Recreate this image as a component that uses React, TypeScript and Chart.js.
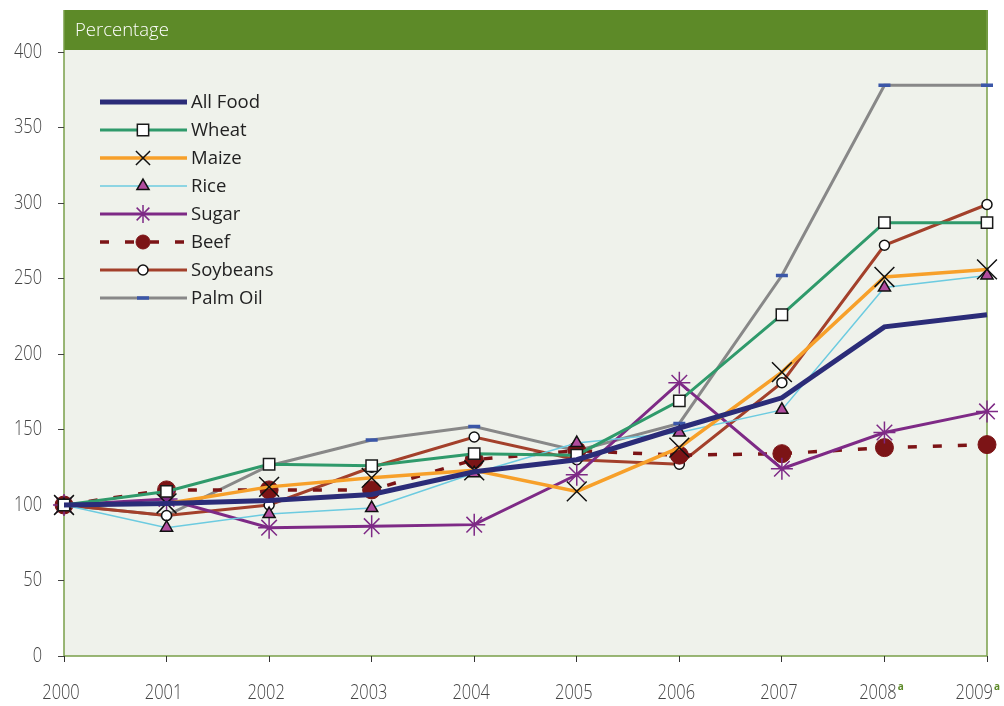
import React, { useEffect, useRef } from "react";
import { Chart, registerables } from "chart.js";
import { drawPoint } from "chart.js/helpers";

Chart.register(...registerables);

const years = ["2000", "2001", "2002", "2003", "2004", "2005", "2006", "2007", "2008", "2009"];
const yearNotes = ["", "", "", "", "", "", "", "", "a", "a"];
const yTicks = [0, 50, 100, 150, 200, 250, 300, 350, 400];

const allFood = [100, 101, 103, 107, 122, 130, 151, 171, 218, 226];
const wheat = [100, 109, 127, 126, 134, 133, 169, 226, 287, 287];
const maize = [100, 101, 112, 118, 123, 109, 138, 188, 251, 256];
const rice = [100, 85, 94, 98, 121, 141, 148, 163, 244, 252];
const sugar = [100, 104, 85, 86, 87, 120, 181, 124, 148, 162];
const beef = [100, 110, 110, 110, 130, 136, 133, 134, 138, 140];
const soybeans = [100, 93, 100, 125, 145, 130, 127, 181, 272, 299];
const palmOil = [100, 93, 126, 143, 152, 136, 154, 252, 378, 378];

const seriesNames = ["All Food", "Wheat", "Maize", "Rice", "Sugar", "Beef", "Soybeans", "Palm Oil"];

const FONT_TEXT = "'Open Sans', 'DejaVu Sans', sans-serif";
const TICK_FONT = `300 20px 'Open Sans', 'DejaVu Sans', sans-serif`;
const NOTE_FONT = `bold 10px 'Open Sans', 'DejaVu Sans', sans-serif`;
const SQUEEZE = 0.82;

function narrowWidth(ctx: any, text: string) {
  ctx.save();
  ctx.font = TICK_FONT;
  const w = ctx.measureText(text).width * SQUEEZE;
  ctx.restore();
  return w;
}

function drawNarrow(ctx: any, text: string, x0: number, y: number) {
  ctx.save();
  ctx.font = TICK_FONT;
  ctx.textBaseline = "middle";
  ctx.textAlign = "left";
  ctx.translate(x0, y);
  ctx.scale(SQUEEZE, 1);
  ctx.fillText(text, 0, 0);
  ctx.restore();
}

const boxPlugin = {
  id: "boxPlugin",
  beforeDraw(chart: any) {
    const { ctx, chartArea } = chart;
    const { left, right, top, bottom } = chartArea;
    const boxTop = top - 42;
    ctx.save();
    ctx.fillStyle = "#eff2eb";
    ctx.fillRect(left, boxTop, right - left, bottom - boxTop);
    ctx.fillStyle = "#5d8a28";
    ctx.fillRect(left, boxTop, right - left + 1, 40);
    ctx.strokeStyle = "#79a04a";
    ctx.lineWidth = 1.5;
    ctx.beginPath();
    ctx.moveTo(left, boxTop);
    ctx.lineTo(left, bottom);
    ctx.lineTo(right, bottom);
    ctx.lineTo(right, boxTop);
    ctx.stroke();
    ctx.fillStyle = "#ffffff";
    ctx.font = `300 18.5px ${FONT_TEXT}`;
    ctx.textBaseline = "middle";
    ctx.textAlign = "left";
    ctx.fillText("Percentage", left + 11, boxTop + 21);
    ctx.restore();
  },
  afterDraw(chart: any) {
    const { ctx } = chart;
    const xScale = chart.scales.x;
    const yScale = chart.scales.y;
    const canvasW = chart.width;
    ctx.save();
    ctx.fillStyle = "#444444";
    yTicks.forEach((v) => {
      const w = narrowWidth(ctx, String(v));
      drawNarrow(ctx, String(v), 42 - w, yScale.getPixelForValue(v));
    });
    years.forEach((yr, i) => {
      const x = xScale.getPixelForValue(i);
      const w = narrowWidth(ctx, yr);
      ctx.font = NOTE_FONT;
      const nw = yearNotes[i] ? ctx.measureText(yearNotes[i]).width + 1 : 0;
      let start = x - 3 - (w + nw) / 2;
      const maxEnd = canvasW - 3;
      if (start + w + nw + 1 > maxEnd) start = maxEnd - (w + nw + 1);
      ctx.fillStyle = "#444444";
      drawNarrow(ctx, yr, start, 693);
      if (yearNotes[i]) {
        ctx.fillStyle = "#5d8a28";
        ctx.font = NOTE_FONT;
        ctx.textBaseline = "middle";
        ctx.textAlign = "left";
        ctx.fillText(yearNotes[i], start + w + 1, 687);
      }
    });
    // legend
    const lx0 = 100;
    const lx1 = 187;
    const rowY0 = 102;
    const rowH = 28;
    chart.data.datasets.forEach((ds: any, i: number) => {
      const y = rowY0 + i * rowH;
      ctx.save();
      ctx.strokeStyle = ds.borderColor;
      ctx.lineWidth = ds.borderWidth;
      ctx.setLineDash(ds.borderDash || []);
      ctx.beginPath();
      ctx.moveTo(lx0, y);
      ctx.lineTo(lx1, y);
      ctx.stroke();
      ctx.setLineDash([]);
      if (ds.pointStyle && ds.pointRadius > 0) {
        ctx.fillStyle = ds.pointBackgroundColor;
        ctx.strokeStyle = ds.pointBorderColor;
        ctx.lineWidth = ds.pointBorderWidth;
        drawPoint(ctx, { pointStyle: ds.pointStyle, radius: ds.legendRadius ?? ds.pointRadius, borderWidth: ds.pointBorderWidth, rotation: 0 }, 143, y);
      }
      ctx.fillStyle = "#222222";
      ctx.font = `18.5px ${FONT_TEXT}`;
      ctx.textAlign = "left";
      ctx.textBaseline = "middle";
      ctx.fillText(ds.label, 191, y + 1);
      ctx.restore();
    });
    ctx.restore();
  },
};

export default function App() {
  const canvasRef = useRef<HTMLCanvasElement | null>(null);

  useEffect(() => {
    if (!canvasRef.current) return;
    const mk = (label: string, data: number[], color: string, width: number, extra: any) => ({
      label,
      data,
      borderColor: color,
      borderWidth: width,
      tension: 0,
      fill: false,
      ...extra,
    });
    const chart = new Chart(canvasRef.current, {
      type: "line",
      data: {
        labels: years,
        datasets: [
          mk(seriesNames[0], allFood, "#2b2c78", 5, { pointRadius: 0, pointStyle: false }),
          mk(seriesNames[1], wheat, "#2f9a6b", 3, {
            pointStyle: "rect", pointRadius: 8, legendRadius: 8,
            pointBackgroundColor: "#ffffff", pointBorderColor: "#1a1a1a", pointBorderWidth: 1.5,
          }),
          mk(seriesNames[2], maize, "#f7a02a", 3.5, {
            pointStyle: "crossRot", pointRadius: 14, legendRadius: 10,
            pointBackgroundColor: "#000000", pointBorderColor: "#111111", pointBorderWidth: 1.5,
          }),
          mk(seriesNames[3], rice, "#6ccbe0", 1.5, {
            pointStyle: "triangle", pointRadius: 7, legendRadius: 7,
            pointBackgroundColor: "#b04c9e", pointBorderColor: "#111111", pointBorderWidth: 1.5,
          }),
          mk(seriesNames[4], sugar, "#7e2a86", 3, {
            pointStyle: "star", pointRadius: 11, legendRadius: 9,
            pointBackgroundColor: "#7e2a86", pointBorderColor: "#7e2a86", pointBorderWidth: 1.5,
          }),
          mk(seriesNames[5], beef, "#7c1416", 3.5, {
            borderDash: [9, 16],
            pointStyle: "circle", pointRadius: 9, legendRadius: 7,
            pointBackgroundColor: "#7c1416", pointBorderColor: "#7c1416", pointBorderWidth: 1,
          }),
          mk(seriesNames[6], soybeans, "#a3402b", 3, {
            pointStyle: "circle", pointRadius: 5, legendRadius: 5,
            pointBackgroundColor: "#ffffff", pointBorderColor: "#111111", pointBorderWidth: 1.5,
          }),
          mk(seriesNames[7], palmOil, "#888888", 3, {
            pointStyle: "line", pointRadius: 6, legendRadius: 6,
            pointBackgroundColor: "#3b57a8", pointBorderColor: "#3b57a8", pointBorderWidth: 3.5,
          }),
        ],
      },
      options: {
        responsive: false,
        animation: false,
        devicePixelRatio: 1,
        layout: { padding: { top: 52, right: 17, left: 0, bottom: 0 } },
        plugins: { legend: { display: false }, tooltip: { enabled: false } },
        elements: { point: { hoverRadius: 0 } },
        scales: {
          x: {
            type: "category",
            offset: false,
            grid: { drawOnChartArea: false, drawTicks: true, tickLength: 6, color: "#333333", lineWidth: 1 },
            border: { display: false },
            ticks: { display: false },
            afterFit: (s: any) => { s.height = 50; },
          },
          y: {
            min: 0,
            max: 400,
            afterBuildTicks: (s: any) => { s.ticks = yTicks.map((v) => ({ value: v })); },
            grid: { drawOnChartArea: false, drawTicks: true, tickLength: 6, color: "#444444", lineWidth: 1 },
            border: { display: false },
            ticks: { display: false },
            afterFit: (s: any) => { s.width = 64; },
          },
        },
      },
      plugins: [boxPlugin],
    });
    return () => chart.destroy();
  }, []);

  return (
    <div style={{ position: "absolute", left: 0, top: 0, width: 1004, height: 706, background: "#ffffff" }}>
      <canvas ref={canvasRef} width={1004} height={706} style={{ width: 1004, height: 706, display: "block" }} />
    </div>
  );
}
